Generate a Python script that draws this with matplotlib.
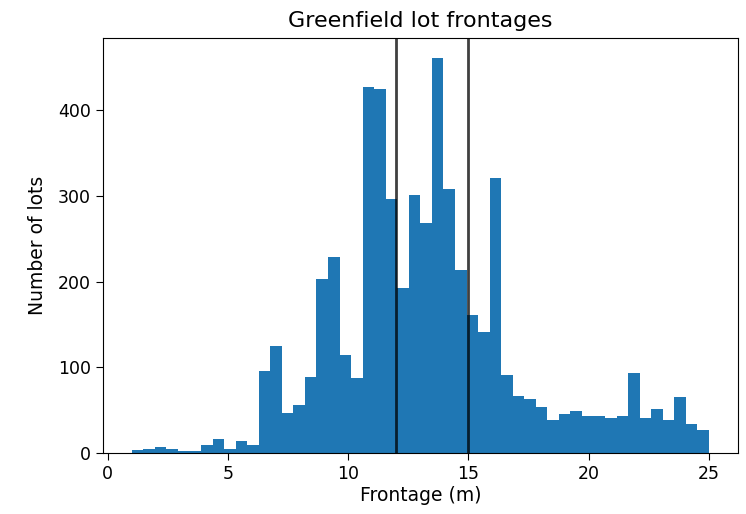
import matplotlib
matplotlib.use('Agg')
import matplotlib.pyplot as plt
import numpy as np

# histogram: 50 bins between 1 m and 25 m
bin_min, bin_max, n_bins = 1.0, 25.0, 50
counts = [3, 5, 7, 5, 2, 2, 9, 16, 5, 14,
          9, 96, 125, 47, 56, 89, 203, 229, 114, 88,
          427, 425, 296, 192, 301, 268, 461, 308, 214, 161,
          141, 321, 91, 67, 63, 54, 38, 45, 49, 43,
          43, 41, 43, 93, 41, 51, 38, 65, 34, 27]
marker_lines = [12, 15]

edges = np.linspace(bin_min, bin_max, n_bins + 1)
centers = (edges[:-1] + edges[1:]) / 2

fig = plt.figure(figsize=(7.46, 5.14), dpi=100)
ax = fig.add_axes([0.138, 0.1187, 0.851, 0.807])

ax.hist(centers, bins=edges, weights=counts, color='#1f77b4')
for xv in marker_lines:
    ax.axvline(xv, color='k', lw=2, alpha=0.75)

ax.set_title('Greenfield lot frontages', fontsize=16, pad=8)
ax.set_xlabel('Frontage (m)', fontsize=13.5, labelpad=2)
ax.set_ylabel('Number of lots', fontsize=13.5, labelpad=8)
ax.tick_params(labelsize=12.5, length=5)

plt.savefig('out.png', dpi=100)
